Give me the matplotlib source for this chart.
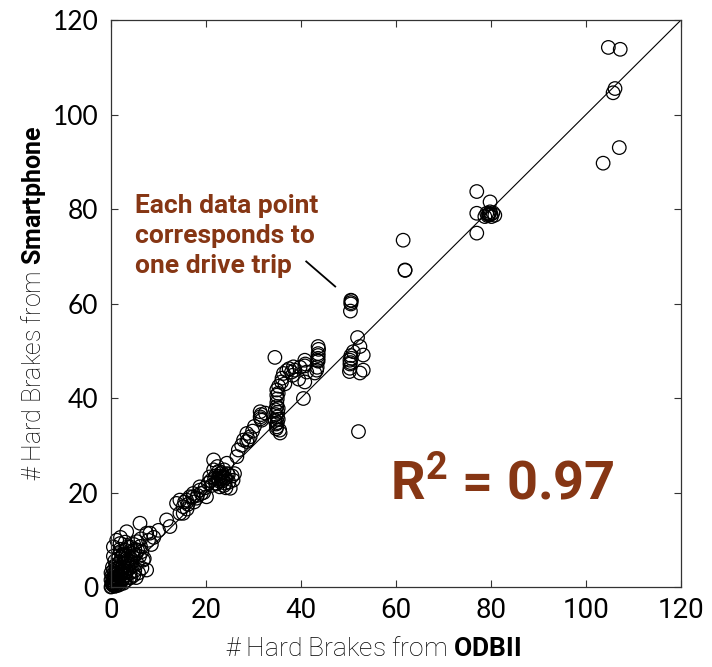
import matplotlib
matplotlib.use("Agg")
import matplotlib.pyplot as plt

plt.rcParams["mathtext.fontset"] = "custom"
plt.rcParams["mathtext.rm"] = "Roboto"
plt.rcParams["mathtext.bf"] = "Roboto:bold"

BROWN = "#863614"

# hard brake counts per drive trip: OBD-II reference vs. smartphone estimate
odb = [
    # high counts
    104.7, 107.2, 106.1, 105.7, 107.0, 103.6,
    77.0, 79.8, 77.0, 77.0, 79.1, 80.1, 79.8, 80.8, 78.7, 79.5, 80.4,
    79.6, 80.0, 79.3,
    61.5, 61.9, 61.9,
    50.5, 50.5, 50.5, 50.4, 50.6,
    51.9, 50.3, 50.3, 50.3, 53.1, 53.1, 52.4, 52.4, 50.5, 52.1,
    50.4, 50.6, 50.2, 51.0,
    # 30 - 45
    34.5, 43.6, 43.6, 43.6, 43.6, 43.3, 42.9, 40.8, 40.8, 40.8, 40.5,
    38.4, 38.7, 38.0, 36.3, 35.9, 36.0, 34.9, 34.9, 35.2, 35.2, 34.9,
    34.5, 34.9, 35.6, 34.7, 35.0, 31.4, 31.4, 31.7, 29.3, 37.5, 39.5,
    34.8, 35.0, 35.1, 34.9, 35.0, 35.3, 34.8, 35.2, 35.5, 34.6,
    43.6, 43.7, 43.5, 43.4, 40.9, 41.2, 39.8, 38.2, 37.0, 36.6,
    31.5, 31.6, 30.2, 29.8, 32.5, 28.9, 27.5,
    # 15 - 30
    28.6, 28.6, 27.9, 26.8, 26.5, 24.4, 21.6, 21.6, 20.8, 23.6, 25.7,
    25.1, 22.9, 22.0, 22.5, 23.0, 24.0, 21.0, 22.2, 23.8, 24.7, 23.2,
    24.2, 22.8, 18.7, 17.3, 20.1, 15.9, 15.2, 18.7, 17.3, 19.5, 18.2,
    16.6, 14.5, 15.2, 14.5, 13.8,
    22.5, 23.0, 23.5, 22.0, 24.0, 24.5, 23.3, 22.7, 21.8, 24.8, 25.5,
    23.8, 21.2, 20.5, 22.4, 26.0, 24.2, 19.8, 19.0, 18.0, 17.5, 16.2,
    16.0, 15.5,
    # low counts
    11.7, 12.4, 6.1, 3.3, 8.2, 7.9, 7.5, 1.2, 0.5, 4.0, 4.7, 6.8, 7.5,
    1.9, 4.7, 2.0, 3.0, 1.5, 2.5, 3.5, 1.0, 0.5, 2.0, 1.0, 0.3, 0.5,
    1.5, 2.5, 3.0, 4.0, 5.0, 5.5, 6.0, 6.5, 5.0, 3.5, 2.5, 0.8, 0.2,
    1.2, 0.0, 0.8, 1.8, 2.8, 3.8, 4.5, 5.8, 6.5, 7.0, 8.5, 9.0, 10.0,
    3.0, 2.0, 0.4, 1.6, 2.2, 0.9, 1.4, 2.6, 3.2, 4.2, 0.6, 1.1,
    0.2, 0.6, 1.0, 1.4, 1.8, 2.2, 2.6, 3.0, 0.4, 0.8, 1.2, 1.6, 2.4,
    2.8, 3.4, 3.6, 4.2, 4.6, 5.2, 5.6, 6.2, 0.1, 0.3, 0.7, 1.1, 1.3,
    1.7, 2.1, 2.3, 2.7, 3.3, 3.7, 4.1, 4.4, 0.5, 0.3, 1.9, 4.8, 5.5,
    6.3, 0.0, 0.0, 0.9, 1.8, 2.9, 3.9, 4.8, 5.3,
]
phone = [
    114.2, 113.8, 105.5, 104.6, 93.0, 89.7,
    83.7, 81.5, 79.1, 74.9, 79.1, 78.4, 79.4, 78.7, 78.4, 78.8, 79.2,
    79.0, 78.9, 78.6,
    73.4, 67.1, 67.0,
    60.7, 60.2, 59.9, 58.4, 60.6,
    52.8, 48.0, 46.3, 47.2, 49.1, 45.9, 45.3, 50.9, 49.0, 32.9,
    47.5, 48.4, 45.6, 49.8,
    48.6, 50.9, 49.4, 48.4, 47.8, 45.9, 45.3, 48.0, 46.8, 43.4, 39.9,
    46.6, 45.9, 45.5, 45.2, 43.4, 44.2, 41.7, 40.6, 41.0, 37.8, 38.2,
    35.3, 33.9, 32.6, 36.5, 34.8, 36.0, 37.1, 35.3, 31.8, 46.2, 44.0,
    34.5, 36.0, 37.0, 39.0, 39.8, 42.5, 33.5, 35.5, 33.2, 37.5,
    49.0, 50.3, 48.0, 46.5, 47.2, 45.5, 46.5, 44.8, 45.8, 43.0,
    35.6, 36.5, 34.0, 33.0, 36.8, 31.2, 30.0,
    32.5, 30.8, 31.1, 29.0, 27.6, 26.2, 26.9, 24.8, 23.3, 23.3, 22.6,
    20.9, 21.2, 23.5, 22.8, 24.0, 22.0, 22.5, 21.8, 24.8, 23.8, 22.9,
    23.1, 22.4, 21.2, 19.8, 19.1, 18.4, 17.0, 20.5, 19.1, 20.0, 19.4,
    19.1, 18.4, 15.6, 15.6, 17.7,
    23.0, 23.5, 22.5, 22.0, 23.0, 24.0, 24.2, 24.5, 23.0, 22.2, 23.5,
    21.5, 21.5, 22.0, 25.5, 24.0, 21.0, 21.0, 19.8, 18.8, 18.0, 17.5,
    16.5, 18.0,
    14.2, 12.8, 13.5, 11.7, 11.4, 9.9, 11.4, 9.9, 8.5, 8.5, 6.4, 5.7, 3.6,
    9.2, 7.1, 7.5, 6.5, 6.0, 5.0, 4.5, 4.5, 3.5, 3.0, 2.0, 1.0, 0.3,
    1.0, 1.8, 2.5, 3.0, 3.5, 5.0, 6.5, 7.5, 8.0, 8.5, 7.0, 5.5, 2.5,
    0.5, 0.0, 1.5, 2.2, 3.5, 5.5, 4.5, 3.0, 4.0, 6.0, 9.0, 10.5, 12.0,
    9.5, 10.5, 0.6, 0.4, 1.2, 0.2, 2.8, 0.8, 1.4, 2.0, 1.9, 3.8,
    0.8, 1.8, 3.0, 4.0, 5.2, 6.2, 6.8, 7.8, 2.0, 3.2, 4.8, 6.6, 4.2,
    5.8, 5.2, 6.6, 6.0, 7.6, 6.8, 7.8, 8.6, 0.1, 0.5, 0.7, 1.1, 1.7,
    1.3, 2.6, 1.5, 2.9, 3.3, 3.9, 4.1, 5.2, 6.5, 4.2, 8.0, 9.0, 9.6,
    10.2, 1.5, 3.0, 0.2, 0.6, 1.2, 2.0, 2.5, 2.0,
]

ticks = [0, 20, 40, 60, 80, 100, 120]

fig = plt.figure(figsize=(7.12, 6.67), dpi=100)
ax = fig.add_axes([0.1559, 0.1199, 0.8006, 0.8501])

ax.plot([0, 120], [0, 120], color="black", lw=0.8, zorder=1)
ax.scatter(odb, phone, s=95, facecolors="none", edgecolors="black",
           linewidths=0.9, zorder=2, clip_on=False)

ax.set_xlim(0, 120)
ax.set_ylim(0, 120)
ax.set_xticks(ticks)
ax.set_yticks(ticks)
ax.tick_params(direction="in", length=5, width=0.8, top=True, right=True,
               color="#333333")
ax.tick_params(axis="x", pad=7)
ax.tick_params(axis="y", pad=9)
for lab in ax.get_xticklabels():
    lab.set_fontfamily("Roboto")
    lab.set_fontsize(20)
for lab in ax.get_yticklabels():
    lab.set_fontfamily("Lato")
    lab.set_fontsize(19)
for sp in ax.spines.values():
    sp.set_color("#333333")
    sp.set_linewidth(0.9)

ax.set_xlabel(r"# Hard Brakes from $\mathbf{ODBII}$", fontfamily="Roboto",
              fontweight="light", fontsize=19, color="black")
ax.xaxis.set_label_coords(0.46, -0.088)
ax.set_ylabel(r"# Hard Brakes from $\mathbf{Smartphone}$", fontfamily="Roboto",
              fontweight="light", fontsize=18, color="black", labelpad=3)

ax.text(5.0, 83.2, "Each data point\ncorresponds to\none drive trip",
        fontfamily="Roboto", fontweight="bold", fontsize=19, color=BROWN,
        va="top", ha="left", linespacing=1.32)
ax.plot([41.1, 47.2], [68.9, 63.6], color="black", lw=1.3)

ax.text(58.7, 18.4, r"$\mathbf{R^2}$ = 0.97", fontfamily="Roboto",
        fontweight="bold", fontsize=39, color=BROWN, va="baseline", ha="left")

fig.savefig("out.png", dpi=100)
